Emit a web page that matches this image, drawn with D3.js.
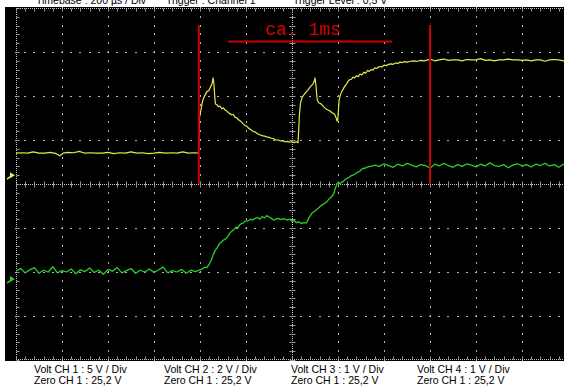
<!DOCTYPE html>
<html><head><meta charset="utf-8">
<script src="https://cdn.jsdelivr.net/npm/d3@7"></script>
<style>html,body{margin:0;padding:0;background:#fff;overflow:hidden}</style>
</head><body>
<svg id="c" width="564" height="386"></svg>
<script>
// ---- data (time in µs, amplitude in screen divisions) ----
const timeDomain = [-1200, 1200];
const divDomain = [-4, 4];
const topLabels = ["Timebase : 200 µs / Div", "Trigger : Channel 1", "Trigger Level : 0,5 V"];
const voltLabels = ["Volt CH 1 : 5 V / Div", "Volt CH 2 : 2 V / Div", "Volt CH 3 : 1 V / Div", "Volt CH 4 : 1 V / Div"];
const zeroLabels = ["Zero CH 1 : 25,2 V", "Zero CH 1 : 25,2 V", "Zero CH 1 : 25,2 V", "Zero CH 1 : 25,2 V"];
const cursorTimes = [-405, 600];
const cursorSpan = [0, 3.61];
const measure = {label: "ca. 1ms", from: -278, to: 435, level: 3.24, textLevel: 3.38};
const ch1Marker = 0.2;
const ch2Marker = -2.16;

const ch1 = [
[-1200,0.70],[-1175,0.71],[-1150,0.70],[-1125,0.73],[-1100,0.70],[-1075,0.70],[-1050,0.72],[-1025,0.69],[-1010,0.64],[-995,0.70],
[-975,0.72],[-950,0.71],[-925,0.74],[-900,0.70],[-875,0.71],[-850,0.70],[-825,0.70],[-800,0.72],[-775,0.69],[-750,0.71],
[-725,0.70],[-700,0.73],[-675,0.70],[-650,0.71],[-625,0.69],[-600,0.70],[-575,0.72],[-550,0.70],[-525,0.71],[-500,0.70],
[-475,0.73],[-450,0.70],[-425,0.71],[-407,0.70],
[-404,1.05],[-402,1.52],[-396,1.68],[-390,1.85],[-385,1.95],[-378,2.02],[-370,2.10],[-362,2.12],[-355,2.20],[-348,2.27],
[-343,2.41],[-339,2.25],[-336,2.00],[-333,1.82],[-326,1.80],[-320,1.76],[-313,1.77],[-305,1.71],[-298,1.73],[-291,1.68],
[-284,1.66],[-277,1.62],[-270,1.60],[-262,1.57],[-255,1.58],[-248,1.52],[-240,1.50],[-233,1.46],[-226,1.44],[-218,1.40],
[-211,1.36],[-204,1.33],[-196,1.31],[-189,1.27],[-180,1.24],[-170,1.20],[-160,1.18],[-150,1.14],[-140,1.12],[-130,1.10],
[-120,1.09],[-110,1.07],[-100,1.06],[-90,1.04],[-80,1.03],[-70,1.00],[-60,1.00],[-50,0.98],[-40,0.98],[-30,0.96],
[-20,0.97],[-10,0.95],[0,0.96],[10,0.94],[20,0.96],[26,0.94],
[29,1.20],[32,1.55],[37,1.84],[43,1.95],[48,2.00],[55,2.05],[61,2.09],[68,2.13],[78,2.20],[85,2.24],
[91,2.27],[97,2.34],[100,2.41],[104,2.25],[107,2.05],[110,1.91],[117,1.84],[124,1.83],[130,1.80],[137,1.76],
[143,1.73],[150,1.70],[157,1.68],[165,1.66],[174,1.62],[181,1.60],[187,1.57],[192,1.50],[196,1.43],[199,1.45],
[202,1.70],[205,1.91],[210,2.02],[216,2.10],[222,2.15],[230,2.23],[237,2.27],[243,2.33],[250,2.37],[258,2.38],
[265,2.43],[272,2.41],[280,2.46],[288,2.44],[296,2.50],[304,2.48],[312,2.54],[320,2.52],[328,2.58],[336,2.56],
[344,2.60],[352,2.59],[360,2.64],[370,2.63],[380,2.67],[390,2.66],[400,2.70],[410,2.69],[420,2.72],[430,2.73],
[440,2.72],[450,2.75],[460,2.74],[470,2.77],[480,2.76],[490,2.78],[500,2.77],[515,2.79],[530,2.80],[545,2.79],
[560,2.81],[575,2.80],[590,2.82],[605,2.83],[620,2.80],[640,2.82],[660,2.84],[680,2.81],[700,2.82],[720,2.82],
[740,2.80],[760,2.83],[780,2.82],[800,2.82],[820,2.85],[840,2.81],[860,2.82],[880,2.80],[900,2.82],[920,2.82],
[940,2.84],[960,2.82],[980,2.82],[1000,2.81],[1020,2.82],[1040,2.80],[1060,2.82],[1080,2.82],[1100,2.79],[1120,2.82],
[1140,2.83],[1160,2.82],[1180,2.80],[1200,2.82]
];

const ch2 = [
[-1200,-1.98],[-1180,-1.92],[-1160,-2.02],[-1140,-1.95],[-1120,-1.90],[-1100,-2.03],[-1080,-1.96],[-1060,-2.00],[-1040,-1.88],[-1020,-2.02],
[-1000,-1.97],[-980,-2.00],[-960,-1.93],[-940,-2.04],[-920,-1.95],[-900,-1.99],[-880,-1.91],[-860,-2.01],[-840,-1.96],[-820,-2.05],
[-800,-1.94],[-780,-1.98],[-760,-1.90],[-740,-2.02],[-720,-1.97],[-700,-1.92],[-680,-2.03],[-660,-1.96],[-640,-2.00],[-620,-1.93],
[-600,-2.01],[-580,-1.95],[-560,-1.89],[-540,-2.02],[-520,-1.97],[-500,-2.00],[-480,-1.94],[-460,-2.03],[-440,-1.96],[-420,-1.99],
[-400,-1.95],[-390,-1.93],[-380,-1.89],[-370,-1.90],[-360,-1.82],[-350,-1.72],[-343,-1.61],[-335,-1.52],[-326,-1.45],[-320,-1.40],
[-313,-1.34],[-306,-1.32],[-300,-1.28],[-292,-1.26],[-283,-1.22],[-276,-1.17],[-270,-1.11],[-263,-1.08],[-257,-1.05],[-250,-1.02],
[-243,-0.98],[-235,-0.99],[-228,-0.93],[-220,-0.90],[-213,-0.89],[-205,-0.85],[-196,-0.84],[-188,-0.83],[-180,-0.80],[-170,-0.82],
[-160,-0.78],[-150,-0.76],[-140,-0.80],[-130,-0.74],[-120,-0.77],[-110,-0.72],[-100,-0.75],[-90,-0.78],[-80,-0.82],[-70,-0.80],
[-60,-0.78],[-50,-0.81],[-40,-0.79],[-30,-0.80],[-20,-0.82],[-10,-0.80],[0,-0.85],[10,-0.83],[20,-0.88],[30,-0.86],
[40,-0.90],[50,-0.88],[61,-0.89],[67,-0.84],[73,-0.77],[80,-0.72],[87,-0.66],[95,-0.63],[102,-0.61],[109,-0.57],
[117,-0.54],[124,-0.50],[130,-0.48],[138,-0.45],[145,-0.43],[152,-0.40],[158,-0.36],[165,-0.32],[172,-0.29],[178,-0.25],
[183,-0.20],[187,-0.12],[192,-0.05],[196,0.02],[202,0.03],[210,0.01],[216,0.05],[222,0.05],[230,0.10],[237,0.12],
[243,0.14],[250,0.16],[258,0.19],[265,0.20],[272,0.22],[280,0.25],[287,0.27],[295,0.29],[302,0.33],[309,0.36],
[316,0.35],[323,0.38],[330,0.39],[340,0.40],[352,0.41],[360,0.43],[380,0.40],[400,0.46],[420,0.42],[440,0.38],
[460,0.45],[480,0.41],[500,0.47],[520,0.43],[540,0.39],[560,0.44],[580,0.42],[600,0.36],[620,0.45],[640,0.41],
[660,0.47],[680,0.42],[700,0.38],[720,0.44],[740,0.40],[760,0.46],[780,0.43],[800,0.39],[820,0.45],[840,0.41],
[860,0.48],[880,0.42],[900,0.40],[920,0.44],[940,0.37],[960,0.43],[980,0.46],[1000,0.41],[1020,0.44],[1040,0.39],
[1060,0.45],[1080,0.42],[1100,0.47],[1120,0.41],[1140,0.44],[1160,0.38],[1180,0.45],[1200,0.42]
];

// ---- drawing ----
const svg = d3.select("#c");
const x = d3.scaleLinear().domain(timeDomain).range([16, 568]);
const y = d3.scaleLinear().domain(divDomain).range([360, 8]);

svg.append("rect").attr("x", 5).attr("y", 7).attr("width", 564).attr("height", 354).attr("fill", "#000");

const xMajor = d3.range(timeDomain[0], timeDomain[1] + 1, 200);
const xMinor = d3.range(timeDomain[0], timeDomain[1] + 1, 40);
const yMajor = d3.range(divDomain[0], divDomain[1] + 0.001, 1);
const yMinor = d3.range(divDomain[0], divDomain[1] + 0.001, 0.2);

const grid = svg.append("g");
// dotted major grid lines (dots at minor positions)
xMajor.filter(t => t !== 0 && t !== timeDomain[0]).forEach(t => {
  yMinor.forEach(v => grid.append("rect").attr("x", Math.round(x(t))).attr("y", Math.round(y(v)) - 1)
    .attr("width", 1).attr("height", 2).attr("fill", "#b8b8b8"));
});
yMajor.filter(v => v !== 0 && v !== divDomain[0] && v !== divDomain[1]).forEach(v => {
  xMinor.forEach(t => grid.append("rect").attr("x", Math.round(x(t)) - 1).attr("y", Math.round(y(v)))
    .attr("width", 2).attr("height", 1).attr("fill", "#b8b8b8"));
});
// center cross with ticks
const cx = Math.round(x(0)) + 0.5, cy = Math.round(y(0)) + 0.5;
grid.append("line").attr("x1", 16).attr("x2", 568).attr("y1", cy).attr("y2", cy)
  .attr("stroke", "#c8c8c8").attr("stroke-dasharray", "1,1");
grid.append("line").attr("x1", cx).attr("x2", cx).attr("y1", 8).attr("y2", 360)
  .attr("stroke", "#c8c8c8").attr("stroke-dasharray", "1,1");
xMinor.forEach(t => grid.append("line").attr("x1", Math.round(x(t)) + 0.5).attr("x2", Math.round(x(t)) + 0.5)
  .attr("y1", cy - 3).attr("y2", cy + 3).attr("stroke", "#9a9a9a"));
yMinor.forEach(v => grid.append("line").attr("y1", Math.round(y(v)) + 0.5).attr("y2", Math.round(y(v)) + 0.5)
  .attr("x1", cx - 3).attr("x2", cx + 3).attr("stroke", "#9a9a9a"));
// frame rulers (left, top, bottom)
const lx = Math.round(x(timeDomain[0])) + 0.5;
grid.append("line").attr("x1", lx).attr("x2", lx).attr("y1", 8).attr("y2", 360)
  .attr("stroke", "#c8c8c8").attr("stroke-dasharray", "1,1");
yMinor.forEach(v => grid.append("line").attr("y1", Math.round(y(v)) + 0.5).attr("y2", Math.round(y(v)) + 0.5)
  .attr("x1", lx).attr("x2", lx + 3).attr("stroke", "#9a9a9a"));
[[y(divDomain[1]) + 0.5, 1], [y(divDomain[0]) - 0.5, -1]].forEach(([yy, dir]) => {
  grid.append("line").attr("x1", 16).attr("x2", 568).attr("y1", yy).attr("y2", yy)
    .attr("stroke", "#c8c8c8").attr("stroke-dasharray", "1,1");
  xMinor.forEach(t => grid.append("line").attr("x1", Math.round(x(t)) + 0.5).attr("x2", Math.round(x(t)) + 0.5)
    .attr("y1", yy).attr("y2", yy + dir * 3).attr("stroke", "#9a9a9a"));
});

// traces
const line = d3.line().x(d => x(d[0])).y(d => y(d[1]));
svg.append("path").datum(ch2).attr("d", line).attr("fill", "none")
  .attr("stroke", "#2ccc2c").attr("stroke-width", 1.3).attr("stroke-linejoin", "round");
svg.append("path").datum(ch1).attr("d", line).attr("fill", "none")
  .attr("stroke", "#e8e84c").attr("stroke-width", 1.2).attr("stroke-linejoin", "round");

// channel markers at left edge
function marker(v, col) {
  const yy = y(v);
  svg.append("path").attr("d", `M7,${yy + 4} L11,${yy + 1}`).attr("stroke", col).attr("stroke-width", 1.5).attr("fill", "none");
  svg.append("path").attr("d", `M10,${yy - 3} L15,${yy} L10,${yy + 3} Z`).attr("fill", col);
}
marker(ch1Marker, "#e8e84c");
marker(ch2Marker, "#2ccc2c");

// cursors and measurement
const red = "#c80000";
cursorTimes.forEach(t => svg.append("line").attr("x1", x(t)).attr("x2", x(t))
  .attr("y1", y(cursorSpan[0])).attr("y2", y(cursorSpan[1])).attr("stroke", red).attr("stroke-width", 2));
svg.append("line").attr("x1", x(measure.from)).attr("x2", x(measure.to))
  .attr("y1", y(measure.level)).attr("y2", y(measure.level)).attr("stroke", red).attr("stroke-width", 2);
svg.append("text").attr("x", x(0) - 27).attr("y", y(measure.textLevel))
  .attr("font-family", "Liberation Mono, monospace").attr("font-size", 18).attr("fill", "#d00000").text(measure.label);

// texts
const cols = [34, 164, 291, 417];
topLabels.forEach((s, i) => svg.append("text").attr("x", cols[i] + 2).attr("y", 4)
  .attr("font-family", "Liberation Sans, Arial, sans-serif").attr("font-size", 10.5).attr("fill", "#000").text(s));
voltLabels.forEach((s, i) => svg.append("text").attr("x", cols[i]).attr("y", 373)
  .attr("font-family", "Liberation Sans, Arial, sans-serif").attr("font-size", 10.5).attr("fill", "#000").text(s));
zeroLabels.forEach((s, i) => svg.append("text").attr("x", cols[i]).attr("y", 384)
  .attr("font-family", "Liberation Sans, Arial, sans-serif").attr("font-size", 10.5).attr("fill", "#000").text(s));
</script>
</body></html>
